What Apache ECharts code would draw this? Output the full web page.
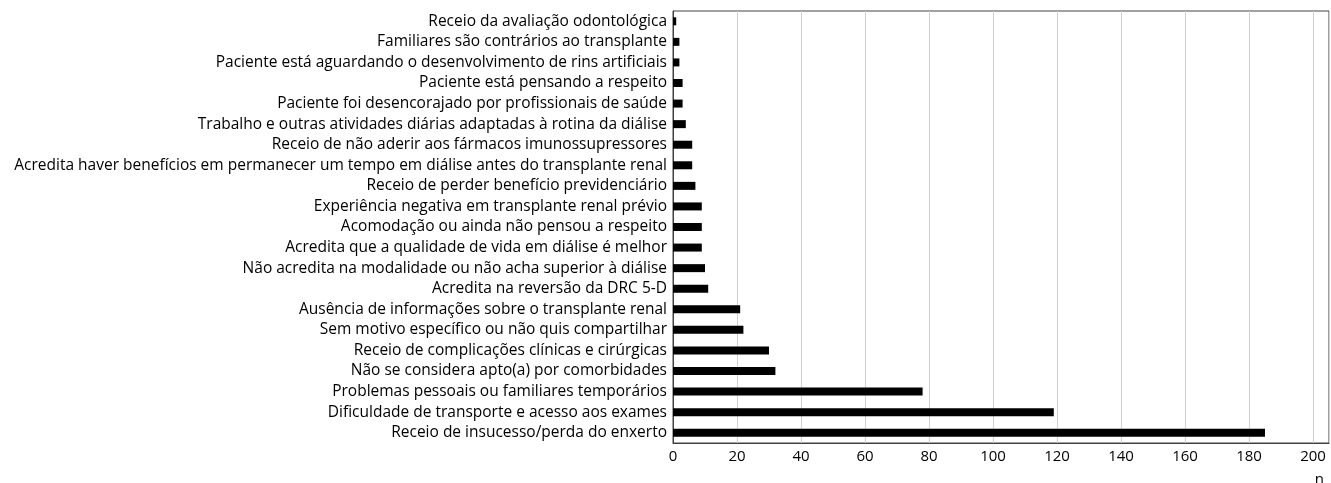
<!DOCTYPE html>
<html>
<head>
<meta charset="utf-8">
<script src="https://cdn.jsdelivr.net/npm/echarts@6/dist/echarts.min.js"></script>
<style>
  html, body { margin: 0; padding: 0; background: #fff; }
  #chart { width: 1331px; height: 483px; }
</style>
</head>
<body>
<div id="chart"></div>
<script>
// ============ 数据 ============
const motivos = [
  'Receio da avaliação odontológica',
  'Familiares são contrários ao transplante',
  'Paciente está aguardando o desenvolvimento de rins artificiais',
  'Paciente está pensando a respeito',
  'Paciente foi desencorajado por profissionais de saúde',
  'Trabalho e outras atividades diárias adaptadas à rotina da diálise',
  'Receio de não aderir aos fármacos imunossupressores',
  'Acredita haver benefícios em permanecer um tempo em diálise antes do transplante renal',
  'Receio de perder benefício previdenciário',
  'Experiência negativa em transplante renal prévio',
  'Acomodação ou ainda não pensou a respeito',
  'Acredita que a qualidade de vida em diálise é melhor',
  'Não acredita na modalidade ou não acha superior à diálise',
  'Acredita na reversão da DRC 5-D',
  'Ausência de informações sobre o transplante renal',
  'Sem motivo específico ou não quis compartilhar',
  'Receio de complicações clínicas e cirúrgicas',
  'Não se considera apto(a) por comorbidades',
  'Problemas pessoais ou familiares temporários',
  'Dificuldade de transporte e acesso aos exames',
  'Receio de insucesso/perda do enxerto'
]
const contagens = [1, 2, 2, 3, 3, 4, 6, 6, 7, 9, 9, 9, 10, 11, 21, 22, 30, 32, 78, 119, 185]
const eixoNome = 'n'

// ============ 配置 ============
const FONT = '"Open Sans", "Noto Sans", sans-serif'
const chart = echarts.init(document.getElementById('chart'))

chart.setOption({
  animation: false,
  title: {
    text: eixoNome,
    right: 2,
    bottom: -9,
    textStyle: { fontFamily: FONT, fontSize: 15, fontWeight: 'normal', color: '#000' }
  },
  grid: {
    left: 673,
    right: 2,
    top: 11,
    bottom: 40,
    show: true,
    borderColor: '#404040',
    borderWidth: 1
  },
  xAxis: {
    type: 'value',
    min: 0,
    max: 205,
    interval: 20,
    axisLine: { show: true, lineStyle: { color: '#404040' } },
    axisTick: { show: false },
    axisLabel: {
      showMaxLabel: false,
      color: '#000',
      fontFamily: FONT,
      fontSize: 15,
      margin: 6
    },
    splitLine: { lineStyle: { color: '#d0d0d0', width: 1 } }
  },
  yAxis: {
    type: 'category',
    inverse: true,
    data: motivos,
    axisLine: { show: true, lineStyle: { color: '#404040' } },
    axisTick: { show: false },
    axisLabel: {
      color: '#000',
      fontFamily: FONT,
      fontSize: 15.5,
      margin: 6,
      interval: 0
    }
  },
  series: [
    {
      type: 'bar',
      data: contagens,
      barWidth: 8,
      itemStyle: { color: '#000' }
    }
  ]
})
</script>
</body>
</html>
